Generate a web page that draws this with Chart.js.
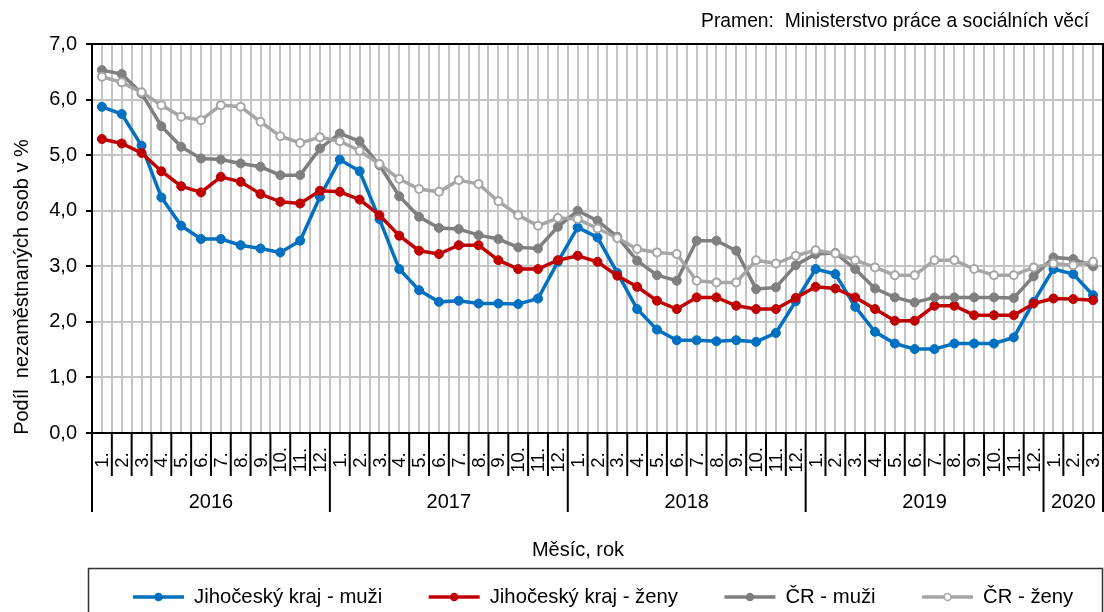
<!DOCTYPE html>
<html>
<head>
<meta charset="utf-8">
<script src="https://cdn.jsdelivr.net/npm/chart.js@4.4.1/dist/chart.umd.min.js"></script>
<style>
  body { margin: 0; background: #fff; }
  canvas { display: block; }
</style>
</head>
<body>
<canvas id="chart" width="1104" height="612"></canvas>
<script>
// months Jan 2016 .. Mar 2020
const years = ['2016', '2017', '2018', '2019', '2020'];
const monthsInYear = [12, 12, 12, 12, 3];
const monthLabels = monthsInYear.flatMap(n => Array.from({length: n}, (_, i) => (i + 1) + '.'));

// podíl nezaměstnaných osob v %
const jcMuzi = [
  5.87, 5.74, 5.17, 4.24, 3.73, 3.49, 3.49, 3.38, 3.32, 3.25, 3.46, 4.25,
  4.92, 4.71, 3.85, 2.95, 2.57, 2.36, 2.38, 2.33, 2.33, 2.32, 2.42, 3.08,
  3.70, 3.52, 2.88, 2.23, 1.86, 1.67, 1.67, 1.65, 1.67, 1.64, 1.80, 2.37,
  2.95, 2.86, 2.27, 1.82, 1.61, 1.51, 1.51, 1.61, 1.61, 1.61, 1.72, 2.36,
  2.95, 2.86, 2.48
];
const jcZeny = [
  5.29, 5.21, 5.04, 4.71, 4.44, 4.33, 4.61, 4.52, 4.30, 4.16, 4.13, 4.36,
  4.34, 4.20, 3.92, 3.55, 3.28, 3.22, 3.38, 3.38, 3.11, 2.95, 2.95, 3.11,
  3.19, 3.08, 2.83, 2.63, 2.38, 2.23, 2.44, 2.44, 2.29, 2.23, 2.23, 2.43,
  2.63, 2.60, 2.44, 2.23, 2.02, 2.02, 2.29, 2.29, 2.12, 2.12, 2.12, 2.33,
  2.42, 2.41, 2.39
];
const crMuzi = [
  6.53, 6.46, 6.11, 5.52, 5.15, 4.94, 4.92, 4.85, 4.79, 4.64, 4.64, 5.12,
  5.39, 5.25, 4.82, 4.26, 3.89, 3.69, 3.67, 3.56, 3.49, 3.34, 3.32, 3.71,
  4.00, 3.82, 3.53, 3.10, 2.84, 2.74, 3.46, 3.46, 3.28, 2.59, 2.62, 3.02,
  3.22, 3.24, 2.95, 2.60, 2.44, 2.35, 2.44, 2.44, 2.44, 2.44, 2.43, 2.82,
  3.16, 3.13, 3.00
];
const crZeny = [
  6.41, 6.31, 6.13, 5.90, 5.69, 5.63, 5.90, 5.87, 5.60, 5.34, 5.22, 5.32,
  5.25, 5.08, 4.84, 4.57, 4.39, 4.34, 4.55, 4.48, 4.17, 3.92, 3.73, 3.87,
  3.85, 3.68, 3.51, 3.31, 3.25, 3.22, 2.74, 2.71, 2.71, 3.11, 3.05, 3.19,
  3.29, 3.23, 3.11, 2.98, 2.84, 2.84, 3.11, 3.11, 2.95, 2.84, 2.84, 2.98,
  3.05, 3.02, 3.08
];

const sourceText = 'Pramen:  Ministerstvo práce a sociálních věcí';
const yTitle = 'Podíl  nezaměstnaných osob v %';
const xTitle = 'Měsíc, rok';

const FONT = "'Liberation Sans', Arial, sans-serif";
const GRID = '#c4c4c4';

function series(label, data, color, hollow) {
  return {
    label: label,
    data: data,
    borderColor: color,
    backgroundColor: color,
    borderWidth: 3.5,
    pointRadius: hollow ? 4 : 4.5,
    pointBorderWidth: hollow ? 2 : 1,
    pointBackgroundColor: hollow ? '#fff' : color,
    pointBorderColor: color,
    tension: 0
  };
}

// texts around the plot, month/year axis, legend
const decor = {
  id: 'decor',
  afterDraw(chart) {
    const ctx = chart.ctx;
    const area = chart.chartArea;
    const x = chart.scales.x;
    ctx.save();

    ctx.strokeStyle = '#000';
    ctx.lineWidth = 2;
    ctx.beginPath();
    ctx.moveTo(area.left, area.top);
    ctx.lineTo(area.right, area.top);
    ctx.lineTo(area.right, area.bottom);
    ctx.stroke();

    ctx.fillStyle = '#000';
    ctx.font = '19.3px ' + FONT;
    ctx.textAlign = 'right';
    ctx.textBaseline = 'alphabetic';
    ctx.fillText(sourceText, 1089, 27);

    // month separators + labels
    const n = monthLabels.length;
    const yearStarts = [0];
    monthsInYear.forEach(m => yearStarts.push(yearStarts[yearStarts.length - 1] + m));
    const bound = i => i === 0 ? area.left : i === n ? area.right
      : (x.getPixelForValue(i - 1) + x.getPixelForValue(i)) / 2;
    ctx.lineWidth = 2;
    for (let i = 0; i <= n; i++) {
      const bx = bound(i);
      ctx.beginPath();
      ctx.moveTo(bx, area.bottom);
      ctx.lineTo(bx, yearStarts.includes(i) ? 512 : 476);
      ctx.stroke();
    }
    ctx.font = '18.5px ' + FONT;
    ctx.textAlign = 'center';
    ctx.textBaseline = 'middle';
    monthLabels.forEach((lab, i) => {
      ctx.save();
      ctx.translate(x.getPixelForValue(i) + 1, 460);
      ctx.rotate(-Math.PI / 2);
      ctx.fillText(lab, 0, 0);
      ctx.restore();
    });
    ctx.font = '20px ' + FONT;
    years.forEach((yr, k) => {
      const cx = (bound(yearStarts[k]) + bound(yearStarts[k + 1])) / 2;
      ctx.fillText(yr, cx, 502);
    });

    ctx.fillText(xTitle, 578, 550);
    ctx.save();
    ctx.translate(22, 287);
    ctx.rotate(-Math.PI / 2);
    ctx.fillText(yTitle, 0, 0);
    ctx.restore();

    // legend
    ctx.strokeStyle = '#333';
    ctx.lineWidth = 1.5;
    ctx.strokeRect(88.5, 568.5, 1014, 60);
    ctx.font = '20.3px ' + FONT;
    ctx.textAlign = 'left';
    let sx = 133;
    const ly = 597;
    chart.data.datasets.forEach(ds => {
      ctx.strokeStyle = ds.borderColor;
      ctx.lineWidth = 3.5;
      ctx.beginPath();
      ctx.moveTo(sx, ly);
      ctx.lineTo(sx + 51, ly);
      ctx.stroke();
      ctx.beginPath();
      ctx.arc(sx + 25.5, ly, 3.5, 0, Math.PI * 2);
      ctx.fillStyle = ds.pointBackgroundColor;
      ctx.fill();
      ctx.lineWidth = 1.5;
      ctx.stroke();
      ctx.fillStyle = '#000';
      const tx = sx + 61;
      ctx.fillText(ds.label, tx, ly);
      sx = tx + ctx.measureText(ds.label).width + 46.5;
    });
    ctx.restore();
  }
};

new Chart(document.getElementById('chart'), {
  type: 'line',
  data: {
    labels: monthLabels,
    datasets: [
      Object.assign(series('Jihočeský kraj - muži', jcMuzi, '#0070c0', false), {order: 4}),
      Object.assign(series('Jihočeský kraj - ženy', jcZeny, '#c00000', false), {order: 3}),
      Object.assign(series('ČR - muži', crMuzi, '#7f7f7f', false), {order: 2}),
      Object.assign(series('ČR - ženy', crZeny, '#a6a6a6', true), {order: 1})
    ]
  },
  options: {
    responsive: false,
    animation: false,
    devicePixelRatio: 1,
    layout: { autoPadding: false, padding: { left: 0, top: 44, right: 1, bottom: 0 } },
    plugins: { legend: { display: false }, tooltip: { enabled: false }, title: { display: false } },
    events: [],
    scales: {
      x: {
        type: 'category',
        offset: true,
        grid: { offset: true, color: GRID, lineWidth: 2, drawTicks: false },
        border: { display: true, color: '#000', width: 2 },
        ticks: { display: false },
        afterFit: s => { s.height = 179; }
      },
      xc: {
        type: 'category',
        axis: 'x',
        position: 'bottom',
        offset: true,
        grid: { offset: false, color: GRID, lineWidth: 2, drawTicks: false },
        border: { display: false },
        ticks: { display: false },
        afterFit: s => { s.height = 0; }
      },
      y: {
        min: 0,
        max: 7,
        ticks: {
          stepSize: 1,
          color: '#000',
          padding: 9,
          font: { family: FONT, size: 20 },
          callback: v => v.toFixed(1).replace('.', ',')
        },
        grid: { color: GRID, lineWidth: 2, tickLength: 6, tickColor: '#000', tickWidth: 2 },
        border: { display: true, color: '#000', width: 2 },
        afterFit: s => { s.width = 92; }
      }
    }
  },
  plugins: [decor]
});
</script>
</body>
</html>
